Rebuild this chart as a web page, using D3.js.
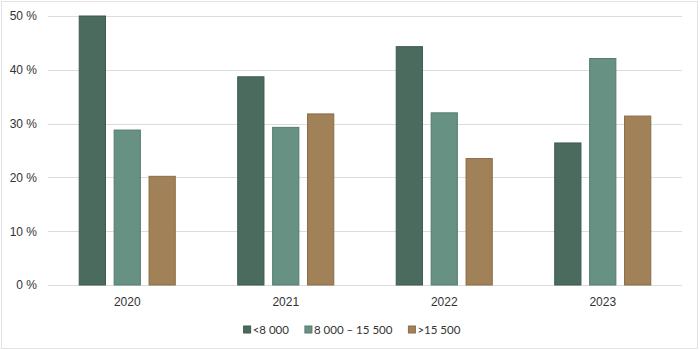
<!DOCTYPE html>
<html>
<head>
    <meta charset="utf-8">
    <script src="https://d3js.org/d3.v7.min.js"></script>
    <style>
        body { margin: 0; }
        svg { font-family: Lato, "Open Sans", sans-serif; }
        .axis text { font-size: 12px; fill: #333; }
        .grid line { stroke: #dcdcdc; stroke-width: 1px; }
        .legend text { font-size: 11.5px; fill: #333; }
    </style>
</head>
<body>
<script>
    // data
    let years = ["2020", "2021", "2022", "2023"];
    let groups = ["<8 000", "8 000 \u2013 15 500", ">15 500"];
    let low = [50.0, 38.7, 44.3, 26.4];
    let mid = [28.8, 29.3, 32.0, 42.1];
    let high = [20.2, 31.8, 23.5, 31.4];
    let yTicks = [0, 10, 20, 30, 40, 50];

    let colors = ["#4a6b5e", "#679183", "#a08158"];
    let strokes = ["#3d5a4e", "#557c6f", "#8a6d47"];

    let width = 700, height = 350;
    let series = [low, mid, high];

    let svg = d3.select("body").append("svg")
        .attr("width", width)
        .attr("height", height);

    // outer border
    svg.append("rect")
        .attr("x", 1.5).attr("y", 1.5)
        .attr("width", width - 4).attr("height", height - 3)
        .attr("fill", "white")
        .attr("stroke", "#e3e3e3");

    let x = d3.scaleBand()
        .domain(years)
        .range([48, 682]);

    let x1 = d3.scaleBand()
        .domain([0, 1, 2])
        .range([0, x.bandwidth()])
        .paddingInner(0.22)
        .paddingOuter(0.88);

    let y = d3.scaleLinear()
        .domain([0, 50])
        .range([285, 16]);

    // grid
    svg.append("g").attr("class", "grid")
        .selectAll("line")
        .data(yTicks)
        .enter().append("line")
        .attr("x1", 48).attr("x2", 682)
        .attr("y1", d => Math.round(y(d)) + 0.5)
        .attr("y2", d => Math.round(y(d)) + 0.5);

    // y axis labels
    let yAxis = d3.axisLeft(y)
        .tickValues(yTicks)
        .tickSize(0)
        .tickPadding(11)
        .tickFormat(d => d + " %");
    svg.append("g").attr("class", "y axis")
        .attr("transform", "translate(48,0)")
        .call(yAxis)
        .call(g => g.select(".domain").remove());

    // bars
    years.forEach(function (yr, i) {
        series.forEach(function (s, j) {
            svg.append("rect")
                .attr("x", x(yr) + x1(j) + 0.5)
                .attr("y", y(s[i]))
                .attr("width", x1.bandwidth() - 1)
                .attr("height", y(0) - y(s[i]))
                .attr("fill", colors[j])
                .attr("stroke", strokes[j])
                .attr("stroke-width", 1);
        });
    });

    // x axis labels
    let xAxis = d3.axisBottom(x).tickSize(0).tickPadding(11);
    svg.append("g").attr("class", "x axis")
        .attr("transform", "translate(0,286)")
        .call(xAxis)
        .call(g => g.select(".domain").remove());

    // legend, laid out from measured text widths and centred
    let legend = svg.append("g").attr("class", "legend");
    let cursor = 0;
    groups.forEach(function (name, j) {
        let item = legend.append("g").attr("transform", "translate(" + cursor + ",0)");
        item.append("rect")
            .attr("x", 0).attr("y", 326)
            .attr("width", 7).attr("height", 7)
            .attr("fill", colors[j])
            .attr("stroke", strokes[j]);
        let t = item.append("text")
            .attr("x", 9)
            .attr("y", 334)
            .text(name);
        cursor += 9 + t.node().getComputedTextLength() + 16;
    });
    let total = cursor - 16;
    legend.attr("transform", "translate(" + (352 - total / 2) + ",0)");
</script>
</body>
</html>
